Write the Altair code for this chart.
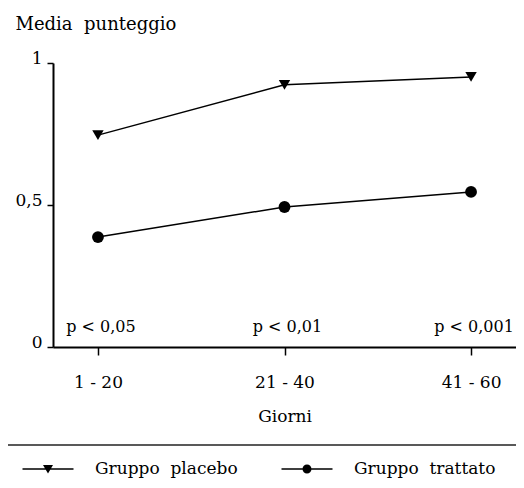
import altair as alt
import pandas as pd

# ---- data ----
periods = ["1 - 20", "21 - 40", "41 - 60"]
period_pos = [1, 2, 3]
placebo = [0.746, 0.923, 0.951]
trattato = [0.387, 0.493, 0.546]
p_values = ["p < 0,05", "p < 0,01", "p < 0,001"]
groups = ["Gruppo placebo", "Gruppo trattato"]

FONT = "DejaVu Serif"
NB = "\u00a0"

df = pd.DataFrame({
    "pos": period_pos * 2,
    "value": placebo + trattato,
    "group": [groups[0]] * len(placebo) + [groups[1]] * len(trattato),
})
pdf = pd.DataFrame({"pos": period_pos, "p": p_values})
ldf = pd.DataFrame({"legend": groups})
one = pd.DataFrame({"k": [0]})

label_expr = "[" + ",".join(f"'{c}'" for c in periods) + "][datum.value - 1]"

x_enc = alt.X(
    "pos:Q",
    scale=alt.Scale(domain=[0.759, 3.241], nice=False, zero=False),
    axis=alt.Axis(
        values=period_pos, labelExpr=label_expr, title="Giorni", grid=False,
        tickSize=8, labelPadding=27, labelBaseline="middle", labelFontSize=17,
        titleY=69, titleBaseline="middle", titleFontSize=17, labelFlush=False,
    ),
)
y_enc = alt.Y(
    "value:Q",
    scale=alt.Scale(domain=[0, 1], nice=False),
    axis=alt.Axis(
        values=[0, 0.5, 1], format=".1~f", labelExpr="replace(datum.label, '.', ',')",
        title="Media" + NB + NB + "punteggio", titleAngle=0, titleX=-38, titleY=-39,
        titleAlign="left", titleBaseline="middle", titleFontSize=18, grid=False,
        tickSize=6, labelPadding=5, labelBaseline="alphabetic", labelFontSize=17,
        labelFlush=False,
    ),
)

base = alt.Chart(df)
lines = base.mark_line(color="black", strokeWidth=1.5).encode(
    x=x_enc, y=y_enc, detail="group:N"
)
tri = base.transform_filter(alt.datum.group == groups[0]).mark_point(
    shape="triangle-down", filled=True, color="black", size=130, opacity=1
).encode(x="pos:Q", y="value:Q")
circ = base.transform_filter(alt.datum.group == groups[1]).mark_point(
    shape="circle", filled=True, color="black", size=140, opacity=1
).encode(x="pos:Q", y="value:Q")

ptext = alt.Chart(pdf).mark_text(
    font=FONT, fontSize=16, dx=3, align="center", baseline="middle", color="black"
).encode(x="pos:Q", y=alt.value(264), text="p:N")

sep = alt.Chart(one).mark_rule(color="#222", strokeWidth=1.5).encode(
    x=alt.value(-45), x2=alt.value(463), y=alt.value(382)
)

# legend symbols: a thin filled bar (the line) plus the marker
bar = "M-2.55,-0.065H2.55V0.065H-2.55Z"
tri_path = bar + "M-0.5,-0.4L0.5,-0.4L0,0.45Z"
circ_path = bar + "M0.45,0A0.45,0.45,0,1,1,-0.45,0A0.45,0.45,0,1,1,0.45,0Z"

leg = alt.Chart(ldf).mark_point(
    filled=True, color="black", size=400, opacity=1
).encode(
    x=alt.value(0), y=alt.value(-700),
    shape=alt.Shape(
        "legend:N",
        scale=alt.Scale(domain=groups, range=[tri_path, circ_path]),
        legend=alt.Legend(
            title=None, orient="none", legendX=-16, legendY=395, direction="horizontal",
            columns=2, columnPadding=40, labelOffset=36, labelFont=FONT, labelFontSize=17,
            labelColor="black", labelLimit=0, padding=0, symbolSize=400,
            symbolFillColor="black",
            labelExpr="replace(datum.label, ' ', '" + NB + NB + "')",
        ),
    ),
)

chart = alt.layer(lines, tri, circ, ptext, sep, leg).properties(
    width=463, height=284,
    autosize=alt.AutoSizeParams(type="none"),
    padding={"left": 45, "top": 55, "right": 0, "bottom": 131},
    background="white",
).configure_view(stroke=None).configure_axis(
    domainColor="black", domainWidth=2, tickColor="black", tickWidth=1.5,
    labelFont=FONT, labelColor="black", titleFont=FONT, titleColor="black",
    titleFontWeight="normal",
)

chart.save("out.html", embed_options={"renderer": "svg", "actions": False})
